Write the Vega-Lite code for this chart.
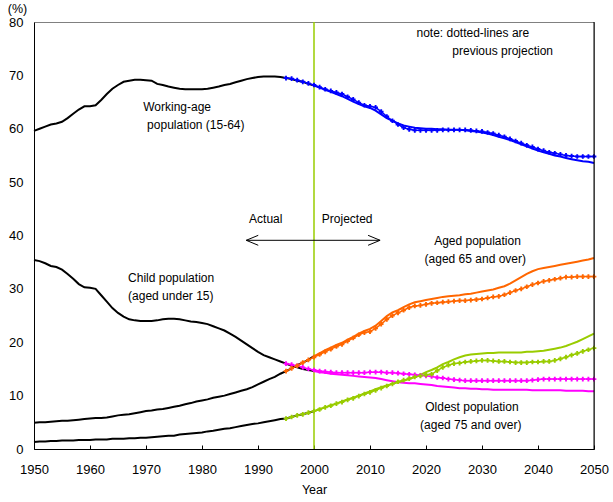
{
  "$schema": "https://vega.github.io/schema/vega-lite/v6.json",
  "width": 560,
  "height": 427,
  "autosize": {"type": "none"},
  "padding": {"left": 34, "top": 22, "right": 19, "bottom": 53},
  "background": "white",
  "config": {
    "font": "Liberation Sans",
    "view": {"stroke": "#808080", "strokeWidth": 1},
    "axis": {"grid": false, "domainColor": "#000000", "domainWidth": 1, "labelColor": "#000000", "labelFontSize": 13, "titleFontSize": 12.5, "titleFontWeight": "normal", "titleColor": "#000000", "labelFont": "Liberation Sans", "titleFont": "Liberation Sans"}
  },
  "datasets": {
    "actual": [
      {"yr":1950,"w":59.6,"c":35.4,"a":4.9,"o":1.3},
      {"yr":1951,"w":60.0,"c":35.2,"a":5.0,"o":1.4},
      {"yr":1952,"w":60.4,"c":34.8,"a":5.0,"o":1.4},
      {"yr":1953,"w":60.8,"c":34.3,"a":5.1,"o":1.5},
      {"yr":1954,"w":61.0,"c":34.1,"a":5.2,"o":1.5},
      {"yr":1955,"w":61.3,"c":33.6,"a":5.3,"o":1.6},
      {"yr":1956,"w":62.0,"c":32.8,"a":5.3,"o":1.6},
      {"yr":1957,"w":62.8,"c":31.9,"a":5.4,"o":1.6},
      {"yr":1958,"w":63.6,"c":30.9,"a":5.5,"o":1.7},
      {"yr":1959,"w":64.2,"c":30.3,"a":5.6,"o":1.7},
      {"yr":1960,"w":64.2,"c":30.2,"a":5.7,"o":1.7},
      {"yr":1961,"w":64.4,"c":30.0,"a":5.8,"o":1.8},
      {"yr":1962,"w":65.4,"c":28.8,"a":5.8,"o":1.8},
      {"yr":1963,"w":66.5,"c":27.6,"a":5.9,"o":1.8},
      {"yr":1964,"w":67.5,"c":26.4,"a":6.1,"o":1.9},
      {"yr":1965,"w":68.2,"c":25.5,"a":6.3,"o":1.9},
      {"yr":1966,"w":68.8,"c":24.8,"a":6.4,"o":1.9},
      {"yr":1967,"w":69.0,"c":24.3,"a":6.5,"o":2.0},
      {"yr":1968,"w":69.2,"c":24.1,"a":6.7,"o":2.0},
      {"yr":1969,"w":69.2,"c":24.0,"a":6.9,"o":2.1},
      {"yr":1970,"w":69.1,"c":24.0,"a":7.1,"o":2.1},
      {"yr":1971,"w":69.0,"c":24.0,"a":7.2,"o":2.2},
      {"yr":1972,"w":68.4,"c":24.1,"a":7.4,"o":2.3},
      {"yr":1973,"w":68.2,"c":24.3,"a":7.5,"o":2.4},
      {"yr":1974,"w":67.9,"c":24.4,"a":7.7,"o":2.5},
      {"yr":1975,"w":67.7,"c":24.4,"a":7.9,"o":2.5},
      {"yr":1976,"w":67.5,"c":24.3,"a":8.1,"o":2.7},
      {"yr":1977,"w":67.4,"c":24.1,"a":8.4,"o":2.8},
      {"yr":1978,"w":67.4,"c":23.9,"a":8.6,"o":2.9},
      {"yr":1979,"w":67.4,"c":23.8,"a":8.9,"o":3.0},
      {"yr":1980,"w":67.4,"c":23.6,"a":9.1,"o":3.1},
      {"yr":1981,"w":67.5,"c":23.4,"a":9.3,"o":3.3},
      {"yr":1982,"w":67.7,"c":23.0,"a":9.6,"o":3.4},
      {"yr":1983,"w":67.9,"c":22.6,"a":9.8,"o":3.6},
      {"yr":1984,"w":68.2,"c":22.2,"a":10.0,"o":3.8},
      {"yr":1985,"w":68.4,"c":21.6,"a":10.3,"o":3.9},
      {"yr":1986,"w":68.7,"c":21.0,"a":10.6,"o":4.1},
      {"yr":1987,"w":69.0,"c":20.3,"a":10.9,"o":4.3},
      {"yr":1988,"w":69.3,"c":19.6,"a":11.2,"o":4.5},
      {"yr":1989,"w":69.5,"c":18.9,"a":11.6,"o":4.7},
      {"yr":1990,"w":69.7,"c":18.2,"a":12.1,"o":4.8},
      {"yr":1991,"w":69.8,"c":17.6,"a":12.6,"o":5.0},
      {"yr":1992,"w":69.8,"c":17.2,"a":13.1,"o":5.2},
      {"yr":1993,"w":69.8,"c":16.8,"a":13.5,"o":5.4},
      {"yr":1994,"w":69.7,"c":16.4,"a":14.1,"o":5.6},
      {"yr":1995,"w":69.5,"c":16.0,"a":14.6,"o":5.7},
      {"yr":1996,"w":69.3,"c":15.6,"a":15.1,"o":6.0},
      {"yr":1997,"w":69.0,"c":15.3,"a":15.7,"o":6.3},
      {"yr":1998,"w":68.8,"c":15.0,"a":16.2,"o":6.5},
      {"yr":1999,"w":68.4,"c":14.8,"a":16.7,"o":6.8},
      {"yr":2000,"w":68.1,"c":14.6,"a":17.4,"o":7.1}
    ],
    "newproj": [
      {"yr":2000,"w":68.1,"c":14.6,"a":17.4,"o":7.1},
      {"yr":2001,"w":67.7,"c":14.4,"a":17.9,"o":7.5},
      {"yr":2002,"w":67.3,"c":14.3,"a":18.5,"o":7.8},
      {"yr":2003,"w":66.9,"c":14.1,"a":19.0,"o":8.2},
      {"yr":2004,"w":66.5,"c":14.0,"a":19.5,"o":8.5},
      {"yr":2005,"w":66.1,"c":13.9,"a":19.9,"o":8.9},
      {"yr":2006,"w":65.6,"c":13.8,"a":20.5,"o":9.3},
      {"yr":2007,"w":65.1,"c":13.7,"a":21.0,"o":9.6},
      {"yr":2008,"w":64.6,"c":13.6,"a":21.6,"o":10.0},
      {"yr":2009,"w":64.2,"c":13.5,"a":22.1,"o":10.4},
      {"yr":2010,"w":63.9,"c":13.4,"a":22.5,"o":10.8},
      {"yr":2011,"w":63.4,"c":13.3,"a":23.1,"o":11.2},
      {"yr":2012,"w":62.7,"c":13.1,"a":24.0,"o":11.6},
      {"yr":2013,"w":62.0,"c":12.9,"a":24.9,"o":11.9},
      {"yr":2014,"w":61.5,"c":12.7,"a":25.6,"o":12.2},
      {"yr":2015,"w":61.0,"c":12.5,"a":26.0,"o":12.5},
      {"yr":2016,"w":60.6,"c":12.4,"a":26.6,"o":12.8},
      {"yr":2017,"w":60.4,"c":12.3,"a":27.1,"o":13.1},
      {"yr":2018,"w":60.2,"c":12.3,"a":27.5,"o":13.5},
      {"yr":2019,"w":60.1,"c":12.2,"a":27.7,"o":13.9},
      {"yr":2020,"w":60.0,"c":12.1,"a":27.9,"o":14.4},
      {"yr":2021,"w":60.0,"c":12.0,"a":28.1,"o":14.8},
      {"yr":2022,"w":59.9,"c":11.8,"a":28.3,"o":15.3},
      {"yr":2023,"w":59.9,"c":11.7,"a":28.5,"o":15.9},
      {"yr":2024,"w":59.8,"c":11.6,"a":28.6,"o":16.3},
      {"yr":2025,"w":59.8,"c":11.5,"a":28.7,"o":16.8},
      {"yr":2026,"w":59.8,"c":11.4,"a":28.8,"o":17.2},
      {"yr":2027,"w":59.7,"c":11.4,"a":29.0,"o":17.5},
      {"yr":2028,"w":59.6,"c":11.3,"a":29.1,"o":17.7},
      {"yr":2029,"w":59.5,"c":11.3,"a":29.3,"o":17.8},
      {"yr":2030,"w":59.3,"c":11.2,"a":29.5,"o":17.9},
      {"yr":2031,"w":59.1,"c":11.2,"a":29.7,"o":18.0},
      {"yr":2032,"w":58.8,"c":11.1,"a":29.9,"o":18.0},
      {"yr":2033,"w":58.5,"c":11.1,"a":30.2,"o":18.1},
      {"yr":2034,"w":58.2,"c":11.1,"a":30.5,"o":18.1},
      {"yr":2035,"w":57.9,"c":11.1,"a":31.0,"o":18.1},
      {"yr":2036,"w":57.5,"c":11.1,"a":31.6,"o":18.1},
      {"yr":2037,"w":57.1,"c":11.1,"a":32.2,"o":18.1},
      {"yr":2038,"w":56.7,"c":11.1,"a":32.8,"o":18.2},
      {"yr":2039,"w":56.3,"c":11.0,"a":33.3,"o":18.2},
      {"yr":2040,"w":55.9,"c":11.0,"a":33.7,"o":18.3},
      {"yr":2041,"w":55.6,"c":11.0,"a":33.9,"o":18.4},
      {"yr":2042,"w":55.3,"c":11.0,"a":34.1,"o":18.6},
      {"yr":2043,"w":55.0,"c":11.0,"a":34.3,"o":18.8},
      {"yr":2044,"w":54.8,"c":11.0,"a":34.5,"o":19.0},
      {"yr":2045,"w":54.5,"c":10.9,"a":34.7,"o":19.3},
      {"yr":2046,"w":54.3,"c":10.9,"a":34.9,"o":19.7},
      {"yr":2047,"w":54.1,"c":10.9,"a":35.1,"o":20.1},
      {"yr":2048,"w":53.9,"c":10.9,"a":35.3,"o":20.6},
      {"yr":2049,"w":53.8,"c":10.8,"a":35.5,"o":21.1},
      {"yr":2050,"w":53.6,"c":10.8,"a":35.8,"o":21.6}
    ],
    "prevproj": [
      {"yr":1995,"w":69.5,"c":16.0,"a":14.6,"o":5.7},
      {"yr":1996,"w":69.4,"c":15.8,"a":15.1,"o":6.0},
      {"yr":1997,"w":69.1,"c":15.6,"a":15.6,"o":6.3},
      {"yr":1998,"w":68.8,"c":15.3,"a":16.2,"o":6.5},
      {"yr":1999,"w":68.5,"c":15.0,"a":16.7,"o":6.8},
      {"yr":2000,"w":68.2,"c":14.8,"a":17.2,"o":7.1},
      {"yr":2001,"w":67.8,"c":14.6,"a":17.7,"o":7.4},
      {"yr":2002,"w":67.4,"c":14.5,"a":18.2,"o":7.8},
      {"yr":2003,"w":67.1,"c":14.4,"a":18.7,"o":8.1},
      {"yr":2004,"w":66.8,"c":14.3,"a":19.2,"o":8.5},
      {"yr":2005,"w":66.5,"c":14.3,"a":19.6,"o":8.8},
      {"yr":2006,"w":66.0,"c":14.3,"a":20.2,"o":9.2},
      {"yr":2007,"w":65.5,"c":14.3,"a":20.8,"o":9.5},
      {"yr":2008,"w":64.9,"c":14.3,"a":21.4,"o":9.9},
      {"yr":2009,"w":64.4,"c":14.3,"a":21.8,"o":10.3},
      {"yr":2010,"w":64.2,"c":14.4,"a":22.0,"o":10.6},
      {"yr":2011,"w":64.0,"c":14.4,"a":22.6,"o":11.0},
      {"yr":2012,"w":63.2,"c":14.4,"a":23.4,"o":11.4},
      {"yr":2013,"w":62.3,"c":14.3,"a":24.3,"o":11.8},
      {"yr":2014,"w":61.5,"c":14.3,"a":25.0,"o":12.2},
      {"yr":2015,"w":60.8,"c":14.2,"a":25.5,"o":12.6},
      {"yr":2016,"w":60.2,"c":14.1,"a":26.0,"o":12.9},
      {"yr":2017,"w":59.9,"c":14.0,"a":26.5,"o":13.2},
      {"yr":2018,"w":59.7,"c":13.9,"a":26.8,"o":13.5},
      {"yr":2019,"w":59.7,"c":13.8,"a":26.9,"o":13.7},
      {"yr":2020,"w":59.7,"c":13.7,"a":27.1,"o":13.9},
      {"yr":2021,"w":59.7,"c":13.6,"a":27.3,"o":14.0},
      {"yr":2022,"w":59.7,"c":13.4,"a":27.4,"o":14.7},
      {"yr":2023,"w":59.8,"c":13.3,"a":27.5,"o":15.3},
      {"yr":2024,"w":59.8,"c":13.1,"a":27.6,"o":15.7},
      {"yr":2025,"w":59.8,"c":13.0,"a":27.7,"o":16.0},
      {"yr":2026,"w":59.8,"c":12.9,"a":27.8,"o":16.1},
      {"yr":2027,"w":59.8,"c":12.8,"a":27.8,"o":16.3},
      {"yr":2028,"w":59.7,"c":12.8,"a":27.9,"o":16.4},
      {"yr":2029,"w":59.6,"c":12.8,"a":28.0,"o":16.5},
      {"yr":2030,"w":59.5,"c":12.8,"a":28.1,"o":16.6},
      {"yr":2031,"w":59.3,"c":12.8,"a":28.3,"o":16.6},
      {"yr":2032,"w":59.1,"c":12.8,"a":28.5,"o":16.5},
      {"yr":2033,"w":58.8,"c":12.8,"a":28.6,"o":16.4},
      {"yr":2034,"w":58.5,"c":12.8,"a":28.9,"o":16.4},
      {"yr":2035,"w":58.1,"c":12.8,"a":29.3,"o":16.3},
      {"yr":2036,"w":57.7,"c":12.8,"a":29.7,"o":16.2},
      {"yr":2037,"w":57.3,"c":12.8,"a":30.0,"o":16.2},
      {"yr":2038,"w":56.9,"c":12.8,"a":30.4,"o":16.2},
      {"yr":2039,"w":56.6,"c":12.9,"a":30.8,"o":16.3},
      {"yr":2040,"w":56.2,"c":13.0,"a":31.1,"o":16.3},
      {"yr":2041,"w":55.9,"c":13.1,"a":31.4,"o":16.4},
      {"yr":2042,"w":55.6,"c":13.1,"a":31.6,"o":16.4},
      {"yr":2043,"w":55.4,"c":13.1,"a":31.8,"o":16.6},
      {"yr":2044,"w":55.2,"c":13.1,"a":32.0,"o":16.9},
      {"yr":2045,"w":55.0,"c":13.1,"a":32.2,"o":17.2},
      {"yr":2046,"w":54.9,"c":13.1,"a":32.2,"o":17.6},
      {"yr":2047,"w":54.8,"c":13.1,"a":32.3,"o":17.9},
      {"yr":2048,"w":54.8,"c":13.1,"a":32.3,"o":18.3},
      {"yr":2049,"w":54.8,"c":13.1,"a":32.3,"o":18.6},
      {"yr":2050,"w":54.8,"c":13.1,"a":32.3,"o":18.9}
    ],
    "leftlabels": [
      {"yr":1969.5,"v":64.0,"t":"Working-age"},
      {"yr":1970.2,"v":60.7,"t":"population (15-64)"},
      {"yr":1966.8,"v":32.1,"t":"Child population"},
      {"yr":1966.8,"v":28.6,"t":"(aged under 15)"},
      {"yr":1988.4,"v":43.1,"t":"Actual"},
      {"yr":2001.4,"v":43.1,"t":"Projected"},
      {"yr":2018.3,"v":77.9,"t":"note: dotted-lines are"},
      {"yr":2024.7,"v":74.6,"t":"previous projection"}
    ],
    "centerlabels": [
      {"yr":2029.2,"v":38.9,"t":"Aged population"},
      {"yr":2028.8,"v":35.6,"t":"(aged 65 and over)"},
      {"yr":2028.2,"v":7.8,"t":"Oldest population"},
      {"yr":2028.0,"v":4.5,"t":"(aged 75 and over)"}
    ]
  },
  "layer": [
    {
      "data": {"values": [{}]},
      "mark": {"type": "rule", "color": "#99CC00", "strokeWidth": 1.5},
      "encoding": {
        "x": {"datum": 2000, "type": "quantitative", "scale": {"domain": [1950, 2050], "nice": false}},
        "y": {"datum": 0, "type": "quantitative"},
        "y2": {"datum": 80}
      }
    },
    {
      "data": {"name": "actual"},
      "transform": [{"fold": ["w", "c", "a", "o"], "as": ["s", "v"]}],
      "mark": {"type": "line", "color": "#000000", "strokeWidth": 2},
      "encoding": {
        "x": {"field": "yr", "type": "quantitative", "scale": {"domain": [1950, 2050], "nice": false},
          "axis": {"values": [1950,1960,1970,1980,1990,2000,2010,2020,2030,2040,2050], "format": "d", "title": "Year", "tickSize": -4, "tickColor": "#000000", "labelPadding": 18, "labelFlush": false, "titleY": 40, "titleBaseline": "middle"}},
        "y": {"field": "v", "type": "quantitative", "scale": {"domain": [0, 80], "nice": false},
          "axis": {"values": [0,10,20,30,40,50,60,70,80], "ticks": false, "labelPadding": 11, "title": "(%)", "titleAngle": 0, "titleX": -17, "titleY": -14, "titleAlign": "center", "titleBaseline": "middle"}},
        "detail": {"field": "s"}
      }
    },
    {
      "data": {"name": "newproj"},
      "transform": [{"fold": ["w", "c", "a", "o"], "as": ["s", "v"]}],
      "mark": {"type": "line", "strokeWidth": 2},
      "encoding": {
        "x": {"field": "yr", "type": "quantitative"},
        "y": {"field": "v", "type": "quantitative"},
        "color": {"field": "s", "type": "nominal", "scale": {"domain": ["w", "c", "a", "o"], "range": ["#0000FF", "#FF00FF", "#FF6600", "#99CC00"]}, "legend": null}
      }
    },
    {
      "data": {"name": "prevproj"},
      "transform": [{"fold": ["w", "c", "a", "o"], "as": ["s", "v"]}],
      "mark": {"type": "line", "strokeWidth": 1.5, "point": {"shape": "cross", "size": 22, "filled": true}},
      "encoding": {
        "x": {"field": "yr", "type": "quantitative"},
        "y": {"field": "v", "type": "quantitative"},
        "color": {"field": "s", "type": "nominal", "legend": null}
      }
    },
    {
      "data": {"values": [{}]},
      "mark": {"type": "rule", "color": "#000000", "strokeWidth": 1},
      "encoding": {
        "x": {"datum": 2050, "type": "quantitative"},
        "y": {"datum": 0, "type": "quantitative"},
        "y2": {"datum": 80}
      }
    },
    {
      "data": {"values": [{}]},
      "mark": {"type": "rule", "color": "#000000", "strokeWidth": 1},
      "encoding": {
        "x": {"datum": 1987.9, "type": "quantitative"},
        "x2": {"datum": 2011.8},
        "y": {"datum": 39.1, "type": "quantitative"}
      }
    },
    {
      "data": {"values": [{}]},
      "mark": {"type": "point", "shape": "M2,-0.83L0,0L2,0.83", "size": 144, "filled": false, "stroke": "#000000", "strokeWidth": 1, "opacity": 1},
      "encoding": {
        "x": {"datum": 1987.9, "type": "quantitative"},
        "y": {"datum": 39.1, "type": "quantitative"}
      }
    },
    {
      "data": {"values": [{}]},
      "mark": {"type": "point", "shape": "M-2,-0.83L0,0L-2,0.83", "size": 144, "filled": false, "stroke": "#000000", "strokeWidth": 1, "opacity": 1},
      "encoding": {
        "x": {"datum": 2011.8, "type": "quantitative"},
        "y": {"datum": 39.1, "type": "quantitative"}
      }
    },
    {
      "data": {"name": "leftlabels"},
      "mark": {"type": "text", "align": "left", "baseline": "middle", "fontSize": 12, "color": "#000000", "font": "Liberation Sans"},
      "encoding": {
        "x": {"field": "yr", "type": "quantitative"},
        "y": {"field": "v", "type": "quantitative"},
        "text": {"field": "t"}
      }
    },
    {
      "data": {"name": "centerlabels"},
      "mark": {"type": "text", "align": "center", "baseline": "middle", "fontSize": 12, "color": "#000000", "font": "Liberation Sans"},
      "encoding": {
        "x": {"field": "yr", "type": "quantitative"},
        "y": {"field": "v", "type": "quantitative"},
        "text": {"field": "t"}
      }
    }
  ]
}
